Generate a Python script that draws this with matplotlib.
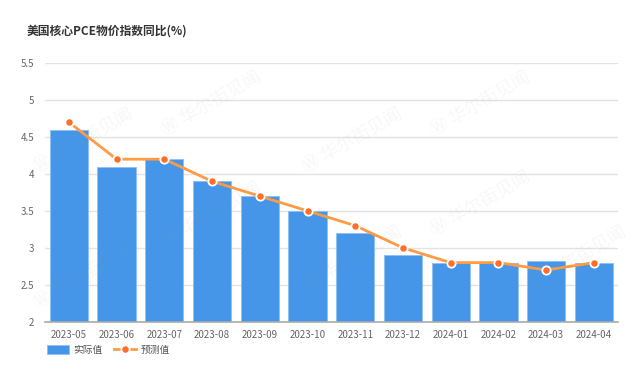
import numpy as np
import matplotlib
matplotlib.use('Agg')
import matplotlib.pyplot as plt

plt.rcParams['font.family'] = ['Noto Sans CJK SC', 'DejaVu Sans']

months = ['2023-05', '2023-06', '2023-07', '2023-08', '2023-09', '2023-10',
          '2023-11', '2023-12', '2024-01', '2024-02', '2024-03', '2024-04']
actual = [4.6, 4.1, 4.2, 3.9, 3.7, 3.5, 3.2, 2.9, 2.8, 2.8, 2.82, 2.8]
forecast = [4.7, 4.2, 4.2, 3.9, 3.7, 3.5, 3.3, 3.0, 2.8, 2.8, 2.7, 2.8]
yticks = [2, 2.5, 3, 3.5, 4, 4.5, 5, 5.5]
ytick_labels = ['2', '2.5', '3', '3.5', '4', '4.5', '5', '5.5']

fig = plt.figure(figsize=(6.4, 3.69), dpi=100)
ax = fig.add_axes([0.0703, 0.128, 0.895, 0.701])

x = np.arange(len(months))
bars = ax.bar(x, [a - 2 for a in actual], bottom=2, width=0.8, color='#4596E8',
              edgecolor='#8CC0F2', linewidth=0.6, zorder=2, label='实际值')
line, = ax.plot(x, forecast, color='#FF9A45', linewidth=2.0, marker='o', markersize=6,
                markerfacecolor='#FF6F2A', markeredgecolor='white', markeredgewidth=1.3,
                zorder=3, label='预测值')

# watermark
for wx, wy in [(0.13, 0.62), (0.33, 0.72), (0.13, 0.25), (0.33, 0.42), (0.55, 0.62),
               (0.75, 0.72), (0.55, 0.3), (0.75, 0.45), (0.9, 0.3)]:
    fig.text(wx, wy, 'Ⓦ 华尔街见闻', fontsize=13, color='#999999', alpha=0.08,
             rotation=30, ha='center', va='center', zorder=0)

ax.set_xlim(-0.5, len(months) - 0.5)
ax.set_ylim(2, 5.5)
ax.set_yticks(yticks)
ax.set_yticklabels(ytick_labels)
ax.set_xticks(x)
ax.set_xticklabels(months)
ax.tick_params(axis='both', length=0, labelsize=7, colors='#666666', pad=6)
ax.tick_params(axis='y', pad=8)
ax.grid(axis='y', color='#E3E3E3', linewidth=1, zorder=0)
for side in ['top', 'right', 'left']:
    ax.spines[side].set_visible(False)
ax.spines['bottom'].set_color('#AAAAAA')
ax.spines['bottom'].set_linewidth(1.2)

fig.text(0.042, 0.915, '美国核心PCE物价指数同比(%)', fontsize=8.5, fontweight='bold',
         color='#333333', va='center')

leg = fig.legend([bars, line], ['实际值', '预测值'], loc='center left',
                 bbox_to_anchor=(0.06, 0.052), ncol=2,
                 frameon=False, fontsize=7, handlelength=2.2, handleheight=1.1,
                 columnspacing=1.2, handletextpad=0.5)
for t in leg.get_texts():
    t.set_color('#555555')

plt.savefig('out.png', dpi=100)
